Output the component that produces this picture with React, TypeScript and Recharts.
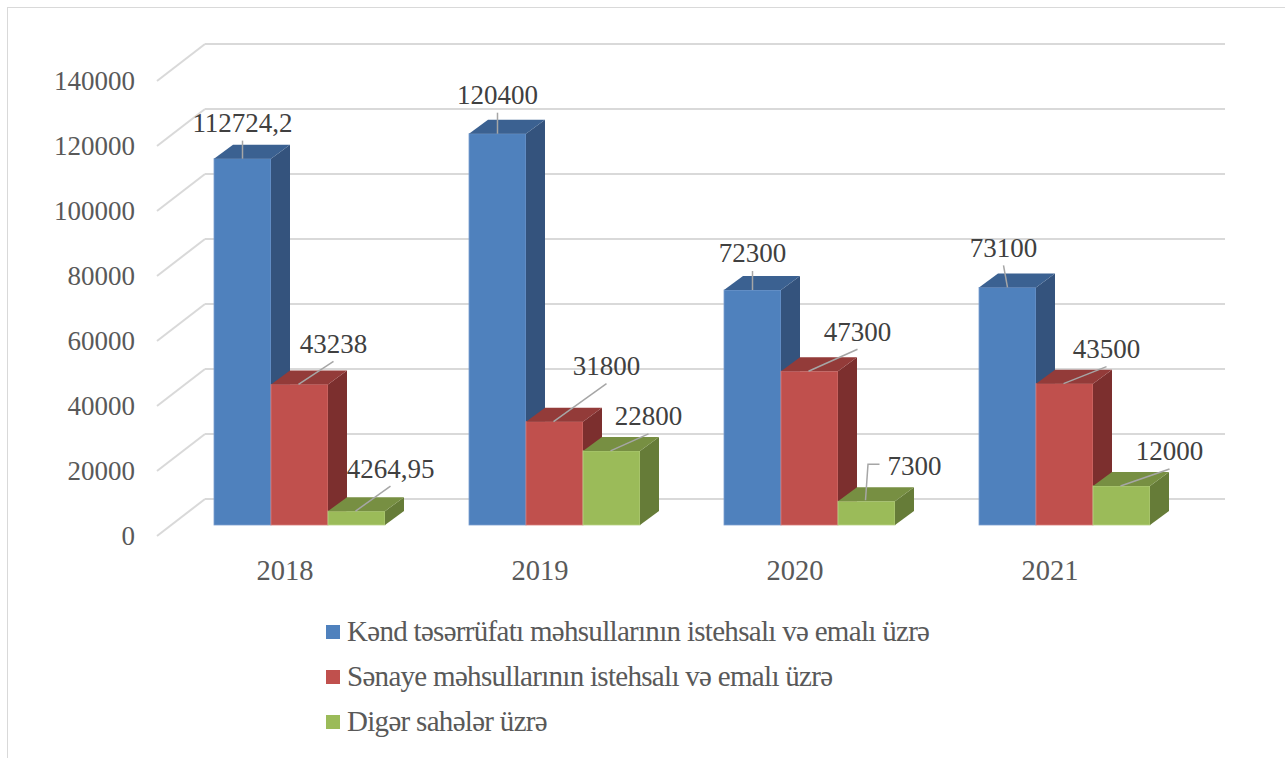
import React from 'react';
import { BarChart, Bar, XAxis, YAxis, CartesianGrid, LabelList, Legend } from 'recharts';

// ---------- data ----------
const categories = ['2018', '2019', '2020', '2021'];
const kendValues = [112724.2, 120400, 72300, 73100];
const senayeValues = [43238, 31800, 47300, 43500];
const digerValues = [4264.95, 22800, 7300, 12000];
const yTicks = [0, 20000, 40000, 60000, 80000, 100000, 120000, 140000];
const seriesNames = [
  'Kənd təsərrüfatı məhsullarının istehsalı və emalı üzrə',
  'Sənaye məhsullarının istehsalı və emalı üzrə',
  'Digər sahələr üzrə',
];

// label offsets (text centre relative to bar top centre)
const kendLabelOffsets = [[0, -36], [0, -39], [0, -37], [-4, -40]];
const senayeLabelOffsets = [[34, -41], [52, -56], [48, -40], [42, -35]];
const digerLabelOffsets = [[34, -43], [37, -35], [48, -36], [48, -35]];
const digerElbowIndex = 2;

const data = categories.map((c, i) => ({
  year: c,
  kend: kendValues[i],
  senaye: senayeValues[i],
  diger: digerValues[i],
}));

// ---------- styling ----------
const FONT = "'Liberation Serif', 'Times New Roman', Tinos, 'DejaVu Serif', 'Noto Serif', serif";
const DX = 19; // bar depth (x)
const DY = 14; // bar depth (y)
const WALL_DX = 33; // back wall offset from bar front plane
const WALL_DY = 26;
const FLOOR_DX = 15; // front floor offset from bar front plane
const FLOOR_DY = 11;

const COLORS = {
  kend: { front: '#4f81bd', side: '#34537d', top: '#3b6191', edge: '#7a9fd0' },
  senaye: { front: '#c0504d', side: '#7c2f2e', top: '#933b39', edge: '#d77c79' },
  diger: { front: '#9bbb59', side: '#667c38', top: '#778f42', edge: '#b8d285' },
};

const Bar3D = (props: any) => {
  const { x, y, width, height, c } = props;
  if (!(height > 0)) return null;
  const r = x + width;
  const b = y + height;
  return (
    <g>
      <rect x={x} y={y} width={width} height={height} fill={c.front} stroke={c.edge} strokeWidth={0.8} />
      <polygon
        points={`${r},${y} ${r + DX},${y - DY} ${r + DX},${b - DY} ${r},${b}`}
        fill={c.side}
      />
      <polygon
        points={`${x},${y} ${x + DX},${y - DY} ${r + DX},${y - DY} ${r},${y}`}
        fill={c.top}
      />
    </g>
  );
};

const fmt = (v: any) => String(v).replace('.', ',');

const makeLabel = (offsets: number[][], elbowIndex: number) => (props: any) => {
  const { x, y, width, value, index } = props;
  if (index == null || !offsets[index]) return null;
  const bx = x + width / 2;
  const by = y;
  const [dx, dy] = offsets[index];
  const cx = bx + dx;
  const cy = by + dy;
  let leader;
  if (index === elbowIndex) {
    leader = (
      <polyline
        points={`${cx - 35},${cy - 1} ${bx + 1.5},${cy - 1} ${bx - 1},${by - 1}`}
        fill="none"
        stroke="#a6a6a6"
        strokeWidth={1.5}
      />
    );
  } else {
    leader = (
      <line x1={cx} y1={cy + 18} x2={Math.abs(dx) < 10 ? bx : bx - 1} y2={by} stroke="#a6a6a6" strokeWidth={1.5} />
    );
  }
  return (
    <g>
      {leader}
      <text x={cx} y={cy} dy="0.35em" textAnchor="middle" style={{ fontFamily: FONT }} fontSize={27} fill="#404040">
        {fmt(value)}
      </text>
    </g>
  );
};

const GridLine = (props: any) => {
  const { x1, x2, y1, key } = props;
  const by = y1 - WALL_DY;
  const bl = x1 + WALL_DX;
  const br = x2 + WALL_DX;
  return (
    <g key={key}>
      <line x1={bl} y1={by} x2={br} y2={by} stroke="#d9d9d9" strokeWidth={2} />
      <line x1={bl} y1={by} x2={x1 - FLOOR_DX} y2={y1 + FLOOR_DY} stroke="#d9d9d9" strokeWidth={2} />
    </g>
  );
};

const YTick = (props: any) => {
  const { y, payload } = props;
  return (
    <text x={135} y={y + FLOOR_DY} dy="0.35em" textAnchor="end" style={{ fontFamily: FONT }} fontSize={27} fill="#595959">
      {payload.value}
    </text>
  );
};

const XTick = (props: any) => {
  const { x, payload } = props;
  return (
    <text x={x - 14.5} y={570} dy="0.35em" textAnchor="middle" style={{ fontFamily: FONT }} fontSize={28.5} fill="#595959">
      {payload.value}
    </text>
  );
};

const LegendContent = (props: any) => {
  const payload = [...(props.payload || [])].sort(
    (a: any, b: any) => seriesNames.indexOf(a.value) - seriesNames.indexOf(b.value)
  );
  return (
    <div style={{ fontFamily: FONT, fontSize: 29, color: '#595959', letterSpacing: -0.7 }}>
      {payload.map((p: any, i: number) => (
        <div key={i} style={{ display: 'flex', alignItems: 'center', height: 45, whiteSpace: 'nowrap' }}>
          <span style={{ display: 'inline-block', width: 14, height: 14, background: p.color, marginRight: 7 }} />
          <span>{p.value}</span>
        </div>
      ))}
    </div>
  );
};

export default function App() {
  return (
    <div style={{ position: 'absolute', left: 0, top: 0, width: 1285, height: 758, overflow: 'hidden', background: '#fff', fontFamily: FONT }}>
      <div
        style={{
          position: 'absolute',
          left: 7,
          top: 7,
          width: 1400,
          height: 900,
          border: '1px solid #d9d9d9',
          boxSizing: 'border-box',
        }}
      />
      <div style={{ position: 'absolute', left: 0, top: 0 }}>
        <BarChart
          width={1285}
          height={758}
          data={data}
          margin={{ top: 70, right: 93, bottom: 193, left: 0 }}
          barGap={0}
          barSize={57}
          style={{ fontFamily: FONT }}
        >
          <CartesianGrid vertical={false} horizontal={GridLine as any} />
          <XAxis dataKey="year" axisLine={false} tickLine={false} height={40} tick={<XTick />} interval={0} />
          <YAxis
            width={172}
            domain={[0, 140000]}
            ticks={yTicks}
            axisLine={false}
            tickLine={false}
            tick={<YTick />}
            interval={0}
          />
          <Legend
            layout="vertical"
            verticalAlign="middle"
            align="center"
            content={<LegendContent />}
            wrapperStyle={{ left: 326, top: 609, width: 800, right: 'auto', bottom: 'auto' }}
          />
          <Bar
            dataKey="kend"
            name={seriesNames[0]}
            fill={COLORS.kend.front}
            isAnimationActive={false}
            shape={(p: any) => <Bar3D {...p} c={COLORS.kend} />}
          >
            <LabelList dataKey="kend" content={makeLabel(kendLabelOffsets, -1)} />
          </Bar>
          <Bar
            dataKey="senaye"
            name={seriesNames[1]}
            fill={COLORS.senaye.front}
            isAnimationActive={false}
            shape={(p: any) => <Bar3D {...p} c={COLORS.senaye} />}
          >
            <LabelList dataKey="senaye" content={makeLabel(senayeLabelOffsets, -1)} />
          </Bar>
          <Bar
            dataKey="diger"
            name={seriesNames[2]}
            fill={COLORS.diger.front}
            isAnimationActive={false}
            shape={(p: any) => <Bar3D {...p} c={COLORS.diger} />}
          >
            <LabelList dataKey="diger" content={makeLabel(digerLabelOffsets, digerElbowIndex)} />
          </Bar>
        </BarChart>
      </div>
    </div>
  );
}
